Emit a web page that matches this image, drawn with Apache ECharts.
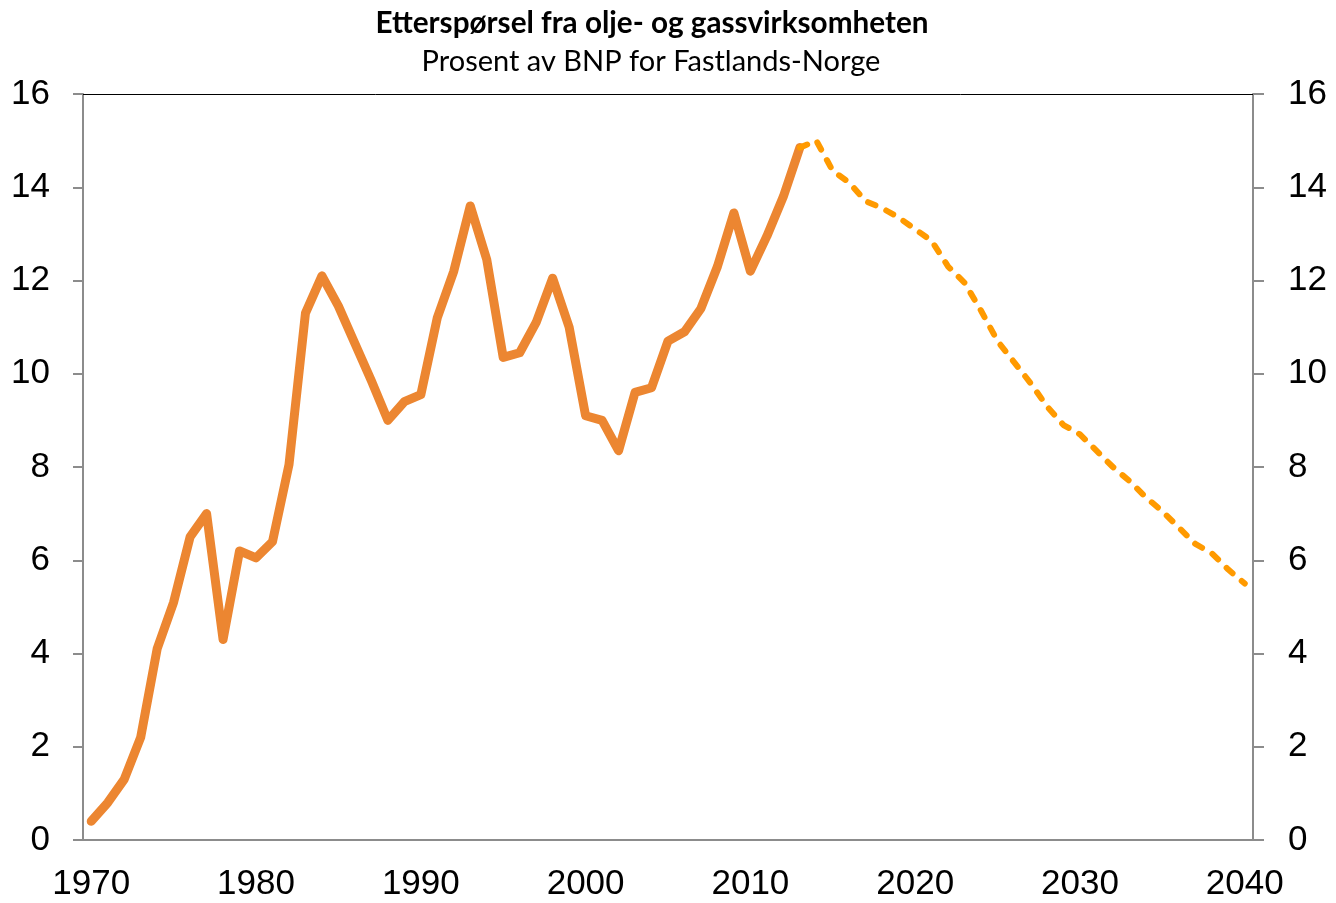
<!DOCTYPE html>
<html>
<head>
<meta charset="utf-8">
<script src="https://cdn.jsdelivr.net/npm/echarts@6/dist/echarts.min.js"></script>
<style>
  html, body { margin: 0; padding: 0; background: #fff; }
  #chart { width: 1336px; height: 903px; }
</style>
</head>
<body>
<div id="chart"></div>
<script>
// år 1970-2040
var years = [];
for (var y = 1970; y <= 2040; y++) years.push(String(y));

// faktiske tall 1970-2013
var histYears = [1970, 2013];
var histValues = [
  0.4, 0.8, 1.3, 2.2, 4.1, 5.1, 6.5, 7.0, 4.3, 6.2,
  6.05, 6.4, 8.05, 11.3, 12.1, 11.45, 10.65, 9.85, 9.0, 9.4,
  9.55, 11.2, 12.2, 13.6, 12.45, 10.35, 10.45, 11.1, 12.05, 11.0,
  9.1, 9.0, 8.35, 9.6, 9.7, 10.7, 10.9, 11.4, 12.3, 13.45,
  12.2, 12.95, 13.8, 14.85
];

// anslag 2013-2040
var projYears = [2013, 2040];
var projValues = [
  14.85, 15.0, 14.35, 14.1, 13.7, 13.55, 13.35, 13.1, 12.85, 12.3,
  11.95, 11.35, 10.7, 10.25, 9.8, 9.3, 8.9, 8.7, 8.35, 8.0,
  7.7, 7.35, 7.05, 6.7, 6.35, 6.15, 5.8, 5.5
];

var yTicks = [0, 2, 4, 6, 8, 10, 12, 14, 16];

function pad(startYear, values) {
  var out = [];
  for (var i = 0; i < years.length; i++) {
    var idx = 1970 + i - startYear;
    out.push(idx >= 0 && idx < values.length ? values[idx] : null);
  }
  return out;
}

var axisGray = "#8c8c8c";
var labelFont = { color: "#000", fontSize: 35, fontFamily: "Liberation Sans, Arial, sans-serif" };

var myChart = echarts.init(document.getElementById("chart"));
myChart.setOption({
  animation: false,
  backgroundColor: "#fff",
  graphic: [
    {
      type: "text",
      x: 652,
      y: 23,
      style: {
        text: "Etterspørsel fra olje- og gassvirksomheten",
        textAlign: "center",
        textVerticalAlign: "middle",
        fontFamily: "Lato, sans-serif",
        fontWeight: "bold",
        fontSize: 29.7,
        fill: "#000"
      }
    },
    {
      type: "text",
      x: 651,
      y: 62,
      style: {
        text: "Prosent av BNP for Fastlands-Norge",
        textAlign: "center",
        textVerticalAlign: "middle",
        fontFamily: "Lato, sans-serif",
        fontSize: 29,
        fill: "#000"
      }
    }
  ],
  grid: {
    left: 83,
    right: 83,
    top: 94,
    bottom: 63
  },
  xAxis: [
    {
      type: "category",
      data: years,
      boundaryGap: true,
      axisLine: { onZero: false, lineStyle: { color: axisGray, width: 2 } },
      axisTick: {
        interval: 9,
        length: 10,
        lineStyle: { color: axisGray, width: 2 }
      },
      axisLabel: Object.assign({ interval: 9, margin: 27 }, labelFont),
      splitLine: { show: false }
    },
    {
      type: "category",
      data: years,
      position: "top",
      axisLine: { show: true, onZero: false, lineStyle: { color: "#000", width: 1 } },
      axisTick: { show: false },
      axisLabel: { show: false }
    }
  ],
  yAxis: [
    {
      type: "value",
      min: 0,
      max: 16,
      interval: 2,
      position: "left",
      axisLine: { show: true, lineStyle: { color: axisGray, width: 2 } },
      axisTick: { show: true, length: 10, lineStyle: { color: axisGray, width: 2 } },
      axisLabel: Object.assign({ margin: 33 }, labelFont),
      splitLine: { show: false }
    },
    {
      type: "value",
      min: 0,
      max: 16,
      interval: 2,
      position: "right",
      axisLine: { show: true, lineStyle: { color: axisGray, width: 2 } },
      axisTick: { show: true, length: 11, lineStyle: { color: axisGray, width: 2 } },
      axisLabel: Object.assign({ margin: 35 }, labelFont),
      splitLine: { show: false }
    }
  ],
  series: [
    {
      name: "Faktisk",
      type: "line",
      data: pad(histYears[0], histValues),
      showSymbol: false,
      symbol: "none",
      connectNulls: false,
      lineStyle: {
        color: "#ec8631",
        width: 9,
        cap: "round",
        join: "round"
      }
    },
    {
      name: "Anslag",
      type: "line",
      data: pad(projYears[0], projValues),
      showSymbol: false,
      symbol: "none",
      lineStyle: {
        color: "#ff9a00",
        width: 6,
        type: [8, 12],
        cap: "round",
        join: "round"
      }
    }
  ]
});
</script>
</body>
</html>
